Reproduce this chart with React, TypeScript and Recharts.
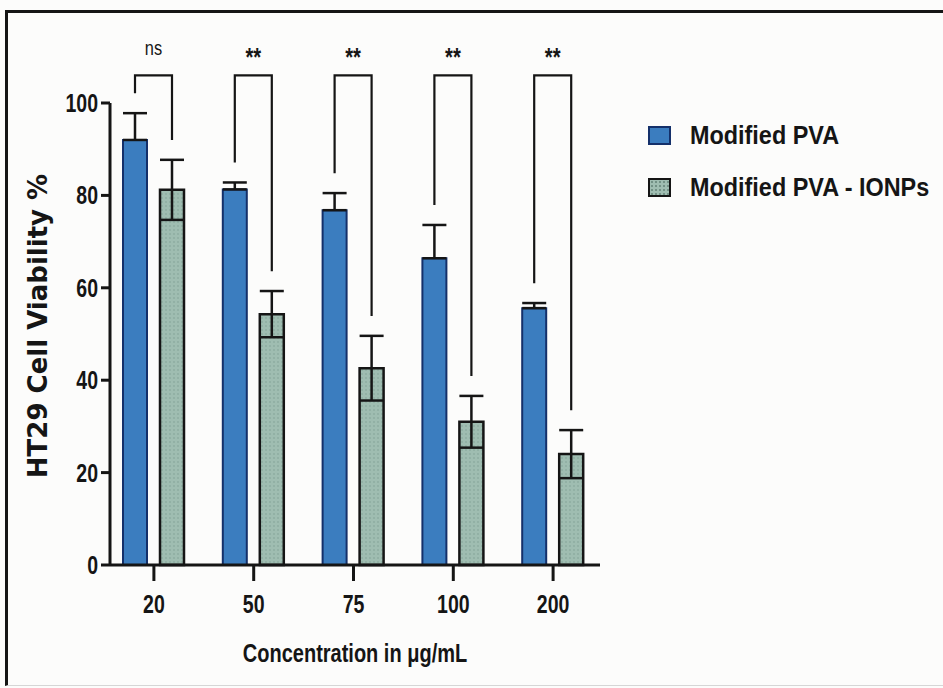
import React from "react";
import { BarChart, Bar, XAxis, YAxis, ErrorBar, LabelList, Legend } from "recharts";

// values (HT29 viability, mean ± SD)
const concentrations = ["20", "50", "75", "100", "200"];
const pvaMean = [92, 81.3, 76.8, 66.4, 55.6];
const pvaErr = [5.8, 1.5, 3.7, 7.2, 1.1];
const ionpMean = [81.2, 54.3, 42.6, 31, 24];
const ionpErr = [6.5, 5, 7, 5.6, 5.2];
const significance = ["ns", "**", "**", "**", "**"];
const yTicks = [0, 20, 40, 60, 80, 100];
const seriesNames = ["Modified PVA", "Modified PVA - IONPs"];

const BRACKET_LEVEL = 106;
const LEG_CLEARANCE = 4.3;

const BAR_SIZE = 24;
const BAR_GAP = 13;
const INK = "#151515";
const BLUE = "#3b7dbf";
const BLUE_EDGE = "#14306a";
const GREEN = "#9fbdb1";
const SANS = "'Liberation Sans', Arial, Helvetica, sans-serif";
const WIDE = "'DejaVu Sans', Verdana, sans-serif";
const SQUEEZE = 0.78; // the figure uses a condensed face

const data = concentrations.map((c, i) => ({
  concentration: c,
  pva: pvaMean[i],
  pvaRange: [0, pvaErr[i]],
  ionp: ionpMean[i],
  ionpErr: ionpErr[i],
}));

// condensed text: scale horizontally around the anchor point
const Narrow = ({ x, y, anchor = "middle", size, weight = 700, sx = SQUEEZE, dy = 0, children }: any) => (
  <g transform={`translate(${x},${y}) scale(${sx},1)`}>
    <text x={0} y={0} dy={dy} textAnchor={anchor} fontFamily={SANS} fontSize={size} fontWeight={weight} fill={INK}>
      {children}
    </text>
  </g>
);

const XTick = ({ x, y, payload }: any) => (
  <Narrow x={x} y={y} size={25} dy="0.72em">
    {payload.value}
  </Narrow>
);

const YTick = ({ x, y, payload }: any) => (
  <Narrow x={x} y={y} size={25} anchor="end" dy="0.36em">
    {payload.value}
  </Narrow>
);

const XTitle = ({ viewBox }: any) => {
  if (!viewBox) return null;
  return (
    <Narrow x={viewBox.x + viewBox.width / 2} y={viewBox.y + viewBox.height - 26} size={25} sx={0.8}>
      Concentration in μg/mL
    </Narrow>
  );
};

const Bracket = (props: any) => {
  const vb = props.viewBox ?? props;
  let i = props.index;
  if (i == null) i = ionpMean.indexOf(Number(props.value));
  if (i < 0 || !vb || !vb.height) return null;
  const base = vb.y + vb.height;
  const k = vb.height / ionpMean[i];
  const yAt = (v: number) => base - v * k;
  const rightX = vb.x + vb.width / 2;
  const leftX = rightX - BAR_SIZE - BAR_GAP;
  const topY = yAt(BRACKET_LEVEL);
  const leftEnd = yAt(pvaMean[i] + pvaErr[i] + LEG_CLEARANCE);
  const rightEnd = yAt(ionpMean[i] + ionpErr[i] + LEG_CLEARANCE);
  const isNs = significance[i] === "ns";
  return (
    <g>
      <path
        d={`M${leftX},${leftEnd} V${topY} H${rightX} V${rightEnd}`}
        fill="none"
        stroke={INK}
        strokeWidth={2.2}
      />
      <Narrow
        x={(leftX + rightX) / 2}
        y={isNs ? topY - 20 : topY - 9}
        size={isNs ? 21 : 26}
        weight={isNs ? 400 : 700}
      >
        {significance[i]}
      </Narrow>
    </g>
  );
};

const dotted = {
  backgroundColor: GREEN,
  backgroundImage: "radial-gradient(circle, rgba(60,90,80,0.45) 0.8px, transparent 1.2px)",
  backgroundSize: "4px 4px",
};

const LegendBox = () => (
  <div style={{ fontFamily: SANS, fontWeight: 700, fontSize: 26, color: INK, whiteSpace: "nowrap" }}>
    {seriesNames.map((name, i) => (
      <div key={name} style={{ display: "flex", alignItems: "center", height: 52 }}>
        <span
          style={{
            display: "inline-block",
            flexShrink: 0,
            width: 19,
            height: 15,
            marginRight: 19,
            border: `2px solid ${i === 0 ? BLUE_EDGE : INK}`,
            ...(i === 0 ? { backgroundColor: BLUE } : dotted),
          }}
        />
        <span style={{ display: "inline-block", transform: "scaleX(0.9)", transformOrigin: "left center" }}>{name}</span>
      </div>
    ))}
  </div>
);

export default function App() {
  return (
    <div style={{ position: "relative", width: 943, height: 688, background: "#fcfcfb", overflow: "hidden" }}>
      <style>{`body{margin:0}`}</style>
      {/* photo frame */}
      <div
        style={{
          position: "absolute",
          left: 5,
          top: 10,
          width: 960,
          height: 672,
          borderTop: `3px solid ${INK}`,
          borderLeft: `3px solid ${INK}`,
          borderBottom: "1px solid #d6d6d6",
        }}
      />
      <div style={{ position: "absolute", left: 0, top: 0 }}>
        <BarChart
          width={943}
          height={688}
          data={data}
          margin={{ top: 103, right: 343, bottom: 0, left: 0 }}
          barSize={BAR_SIZE}
          barGap={BAR_GAP}
        >
          <defs>
            <pattern id="dots" width="4" height="4" patternUnits="userSpaceOnUse">
              <rect width="4" height="4" fill={GREEN} />
              <circle cx="2" cy="2" r="0.7" fill="#5d7f73" opacity={0.55} />
            </pattern>
          </defs>
          <XAxis
            dataKey="concentration"
            interval={0}
            height={123}
            padding={{ left: -6, right: -3 }}
            tickSize={16}
            tickMargin={14}
            axisLine={{ stroke: INK, strokeWidth: 3 }}
            tickLine={{ stroke: INK, strokeWidth: 3 }}
            tick={<XTick />}
            label={<XTitle />}
          />
          <YAxis
            domain={[0, 100]}
            ticks={yTicks}
            width={110}
            tickSize={9}
            tickMargin={3}
            axisLine={{ stroke: INK, strokeWidth: 3 }}
            tickLine={{ stroke: INK, strokeWidth: 3 }}
            tick={<YTick />}
            label={{
              value: "HT29 Cell Viability %",
              angle: -90,
              position: "center",
              dx: -17,
              dy: -8,
              fontSize: 26,
              fontWeight: 700,
              fill: INK,
              fontFamily: WIDE,
            }}
          />
          <Legend
            layout="vertical"
            verticalAlign="middle"
            align="center"
            content={<LegendBox />}
            wrapperStyle={{ left: 648, top: 109, width: 295 }}
          />
          <Bar dataKey="pva" name={seriesNames[0]} fill={BLUE} stroke={BLUE_EDGE} strokeWidth={2} isAnimationActive={false}>
            <ErrorBar dataKey="pvaRange" width={12} stroke={INK} strokeWidth={2.5} />
          </Bar>
          <Bar dataKey="ionp" name={seriesNames[1]} fill="url(#dots)" stroke={INK} strokeWidth={2.5} isAnimationActive={false}>
            <ErrorBar dataKey="ionpErr" width={12} stroke={INK} strokeWidth={2.5} />
            <LabelList dataKey="ionp" content={<Bracket />} />
          </Bar>
        </BarChart>
      </div>
    </div>
  );
}
